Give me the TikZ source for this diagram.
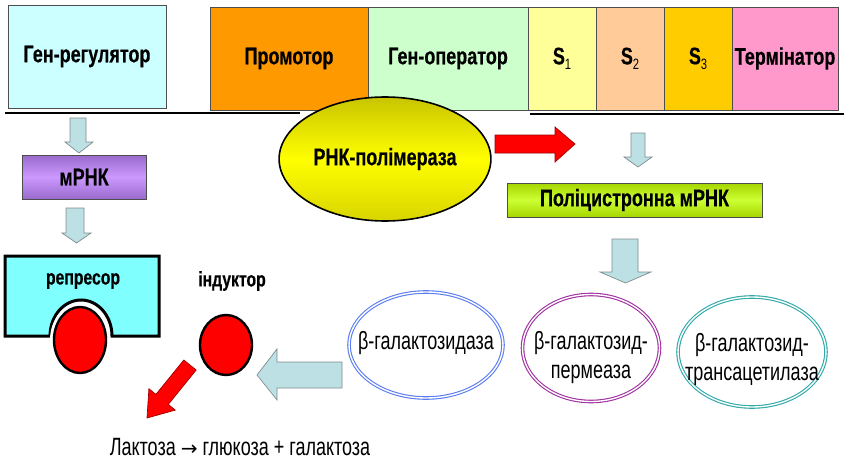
\documentclass[tikz,border=0pt]{standalone}
\usepackage{fontspec}
\setmainfont{Liberation Sans}
\newfontfamily\narrowb[FakeStretch=0.75, BoldFeatures={FakeBold=0.4}]{Liberation Sans}
\newfontfamily\narrowr[FakeStretch=0.72]{Liberation Sans}
\usetikzlibrary{shapes.geometric}

\definecolor{genreg}{HTML}{CCFFFF}
\definecolor{promo}{HTML}{FF9900}
\definecolor{oper}{HTML}{CCFFCC}
\definecolor{sone}{HTML}{FFFF99}
\definecolor{stwo}{HTML}{FFCC99}
\definecolor{sthree}{HTML}{FFCC00}
\definecolor{term}{HTML}{FF99CC}
\definecolor{pale}{HTML}{BCE0E4}
\definecolor{paleedge}{HTML}{7F8C8E}
\definecolor{repcyan}{HTML}{80FFFF}
\definecolor{boxedge}{HTML}{4D4D4D}
\definecolor{galblue}{HTML}{5A7CF0}
\definecolor{permpurple}{HTML}{A030A0}
\definecolor{transteal}{HTML}{30A8A8}
\definecolor{darkred}{HTML}{A00000}
\definecolor{lilacedge}{HTML}{9A6ACC}
\definecolor{lilac}{HTML}{CC99FF}
\definecolor{limeedge}{HTML}{A6D600}
\definecolor{lime}{HTML}{CCFF33}
\definecolor{olivetop}{HTML}{C8C400}
\definecolor{olivebot}{HTML}{D8D400}

\tikzset{
  hd/.style={font=\narrowb\bfseries\fontsize{24}{26}\selectfont},
  rg/.style={font=\narrowr\fontsize{25}{29}\selectfont, align=center},
  genebox/.style={draw=boxedge, line width=0.8pt, inner sep=0pt, outer sep=0pt,
    minimum height=103pt, hd},
  pbox/.style={draw=boxedge, line width=0.8pt, inner sep=0pt, outer sep=0pt, hd},
  blockarrow/.style={fill=pale, draw=paleedge, line width=0.7pt, line join=miter},
  redarrow/.style={fill=red, draw=darkred, line width=0.7pt, line join=miter},
  ball/.style={ellipse, fill=red, draw=black, line width=2.4pt, inner sep=0pt},
  enzyme/.style={ellipse, draw=#1, double=white, double distance=1.4pt,
    line width=1.1pt, inner sep=0pt},
  lbl/.style={font=\narrowb\bfseries\fontsize{21}{23}\selectfont},
}
\newcommand\subidx[1]{\raisebox{-0.4ex}{\mdseries\fontsize{15}{16}\selectfont #1}}

\begin{document}
\begin{tikzpicture}[x=1pt, y=-1pt]
\useasboundingbox (0,0) rectangle (844,460);

% DNA strand under the genes
\draw[line width=1.8pt] (5,113) -- (300,113);
\draw[line width=1.8pt] (530,114) -- (844,114);

% regulator gene and the lac operon
\node[genebox, fill=genreg, minimum width=158pt] (reg) at (87,56.5) {Ген-регулятор};
\node[genebox, fill=promo, minimum width=158pt] (prom) at (289,58.5) {Промотор};
\node[genebox, fill=oper, minimum width=160pt] (oper) at (448,58.5) {Ген-оператор};
\node[genebox, fill=sone, minimum width=68pt] (s1) at (562,58.5) {S\subidx{1}};
\node[genebox, fill=stwo, minimum width=68pt] (s2) at (630,58.5) {S\subidx{2}};
\node[genebox, fill=sthree, minimum width=68pt] (s3) at (698,58.5) {S\subidx{3}};
\node[genebox, fill=term, minimum width=106pt] (term) at (785,58.5) {Термінатор};

% RNA polymerase
\node[ellipse, draw=black, line width=1.6pt, minimum width=210pt, minimum height=124pt,
  top color=olivetop, bottom color=olivebot, middle color=yellow, hd]
  (pol) at (385,159) {РНК-полімераза};

% red arrow: polymerase moves along the operon
\draw[redarrow] (495,135) -- (555,135) -- (555,127) -- (575,144) -- (555,162)
  -- (555,153) -- (495,153) -- cycle;

% left branch: regulator -> mRNA -> repressor
\draw[blockarrow] (70,118) -- (86,118) -- (86,142) -- (93,142) -- (79,153)
  -- (65,142) -- (70,142) -- cycle;
\node[pbox, minimum width=124pt, minimum height=44pt,
  top color=lilacedge, bottom color=lilacedge, middle color=lilac] (mrna) at (84,177) {мРНК};
\draw[blockarrow] (66,208) -- (84,208) -- (84,233) -- (91,233) -- (76.5,243)
  -- (62,233) -- (66,233) -- cycle;

% repressor with the inducer-binding site
\draw[fill=repcyan, line width=3pt, line join=miter] (5,256) -- (159,256) -- (159,336)
  -- (112,336) arc[start angle=0, end angle=-180, x radius=31, y radius=36]
  -- (5,336) -- cycle;
\node[lbl] (rep) at (83,281) {репресор};
\fill[white] (80,340) ellipse [x radius=30, y radius=37];
\node[ball, minimum width=52pt, minimum height=66pt] (repball) at (80,340) {};

% inducer
\node[lbl] (ind) at (232,281) {індуктор};
\node[ball, minimum width=52pt, minimum height=60pt] (indball) at (226,345) {};

% right branch: polycistronic mRNA and enzymes
\draw[blockarrow] (631,133) -- (645,133) -- (645,157) -- (652,157) -- (638,167)
  -- (624,157) -- (631,157) -- cycle;
\node[pbox, minimum width=255pt, minimum height=34pt,
  top color=limeedge, bottom color=limeedge, middle color=lime] (poly) at (634.5,200)
  {Поліцистронна мРНК};
\draw[blockarrow] (612,239) -- (638,239) -- (638,272) -- (651,272) -- (625.5,283)
  -- (600,272) -- (612,272) -- cycle;

\node[enzyme=galblue, minimum width=154pt, minimum height=106pt] (gal) at (426,345) {};
\node[rg] (galtxt) at (426,343) {β-галактозидаза};
\node[enzyme=permpurple, minimum width=137pt, minimum height=107pt] (perm) at (591,348) {};
\node[rg] (permtxt) at (591,358) {β-галактозид-\\пермеаза};
\node[enzyme=transteal, minimum width=148pt, minimum height=110pt] (trans) at (752,352) {};
\node[rg] (transtxt) at (752,360) {β-галактозид-\\трансацетилаза};

% enzyme acts on the inducer
\draw[blockarrow] (342,362) -- (342,388) -- (277,388) -- (277,400) -- (257,375)
  -- (277,349) -- (277,362) -- cycle;

% lactose breakdown
\draw[redarrow] (183.8,360) -- (196.2,370) -- (168.3,404.4) -- (175.3,410.1)
  -- (147,418) -- (148.9,388.7) -- (155.9,394.4) -- cycle;
\node[rg] (lac) at (240,447)
  {Лактоза {\fontspec{DejaVu Sans}\fontsize{20}{22}\selectfont →} глюкоза + галактоза};
\end{tikzpicture}
\end{document}
